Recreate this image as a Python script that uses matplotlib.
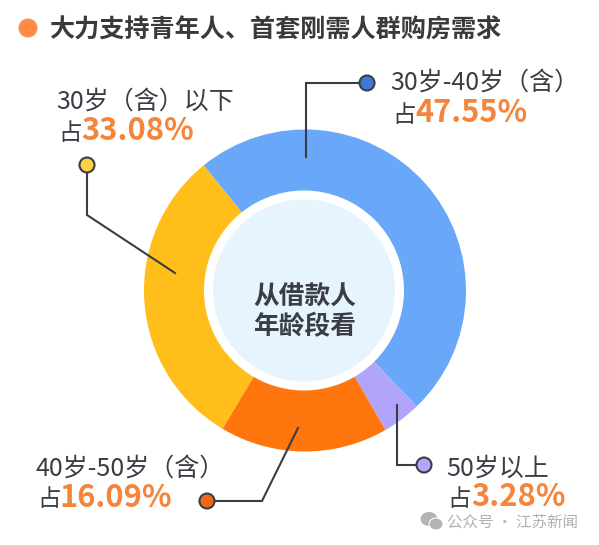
import matplotlib
matplotlib.use("Agg")
import matplotlib.pyplot as plt
from matplotlib.patches import Circle, Ellipse

plt.rcParams['font.family'] = ['Noto Sans CJK SC', 'DejaVu Sans']

W, H = 599, 545

title = "大力支持青年人、首套刚需人群购房需求"
center_lines = ["从借款人", "年龄段看"]

# shares as drawn in the picture, clockwise from the blue slice
slice_names = ["30岁-40岁（含）", "50岁以上", "40岁-50岁（含）", "30岁（含）以下"]
slice_shares = [48.6, 3.9, 16.9, 30.6]
slice_colors = ["#69A7F8", "#B1A4FB", "#FF760E", "#FFBE1A"]
# shares as printed on the labels
printed = ["47.55%", "3.28%", "16.09%", "33.08%"]
dot_colors = ["#3F78D6", "#B1A4FB", "#F0681A", "#FFD23F"]

dark = "#3B3D45"
accent = "#F5853A"


def yy(p):
    return H - p


fig = plt.figure(figsize=(W / 100, H / 100), dpi=100)
ax = fig.add_axes([0, 0, 1, 1])

cx, cy, r = 305, 290.5, 161
ax.pie(slice_shares, colors=slice_colors, center=(cx, yy(cy)), radius=r,
       startangle=129, counterclock=False, frame=False)
ax.set_xlim(0, W)
ax.set_ylim(0, H)
ax.set_aspect('equal')
ax.axis('off')

ax.add_patch(Circle((cx - 1, yy(cy)), 100, fc="white", ec="none", zorder=3))
ax.add_patch(Circle((cx - 1, yy(cy)), 91, fc="#E6F4FE", ec="none", zorder=4))
for line, py in zip(center_lines, [297, 327]):
    ax.text(cx, yy(py), line, fontsize=18.5, fontweight='bold', color=dark,
            ha='center', va='center', zorder=5)

# title
ax.add_patch(Circle((28, yy(28)), 9.5, fc="#FF8C42", ec="none"))
ax.text(49, yy(30), title, fontsize=18.1, fontweight='bold', color="#3A3A3A",
        ha='left', va='center')

# leader lines, in slice order
leaders = [
    [(306, 157), (306, 83), (367, 83)],
    [(397, 405), (397, 465), (424, 465)],
    [(298, 428), (262, 501), (207, 501)],
    [(175, 273), (87, 215), (87, 165)],
]
for pts, col in zip(leaders, dot_colors):
    ax.plot([p[0] for p in pts], [yy(p[1]) for p in pts], color=dark, lw=1.5,
            solid_joinstyle='miter', zorder=6)
    ax.add_patch(Circle((pts[-1][0], yy(pts[-1][1])), 7.5, fc=col, ec=dark, lw=1.5, zorder=7))

# labels: name position, 占 position, percent position
name_xy = [(390, 83), (446, 469), (35, 469), (56, 102)]
zhan_xy = [(392, 115), (447, 499), (37, 500), (58, 133)]
pct_xy = [(415, 113), (471, 497), (60, 498), (81, 131)]
for i in range(4):
    ax.text(name_xy[i][0], yy(name_xy[i][1]), slice_names[i], fontsize=18, color=dark,
            ha='left', va='center')
    ax.text(zhan_xy[i][0], yy(zhan_xy[i][1]), "占", fontsize=17, color=dark,
            ha='left', va='center')
    ax.text(pct_xy[i][0], yy(pct_xy[i][1]), printed[i], fontsize=22.2, fontweight='bold',
            color=accent, ha='left', va='center')

# watermark
ax.add_patch(Ellipse((429, yy(519)), 17, 14, fc="#B4B4B4", ec="none", zorder=8))
ax.add_patch(Ellipse((436, yy(524)), 14, 12, fc="#B4B4B4", ec="white", lw=0.8, zorder=9))
ax.text(447, yy(522), "公众号 · 江苏新闻", fontsize=11.2, color="#B0B0B0",
        ha='left', va='center')

fig.savefig("out.png", dpi=100)
